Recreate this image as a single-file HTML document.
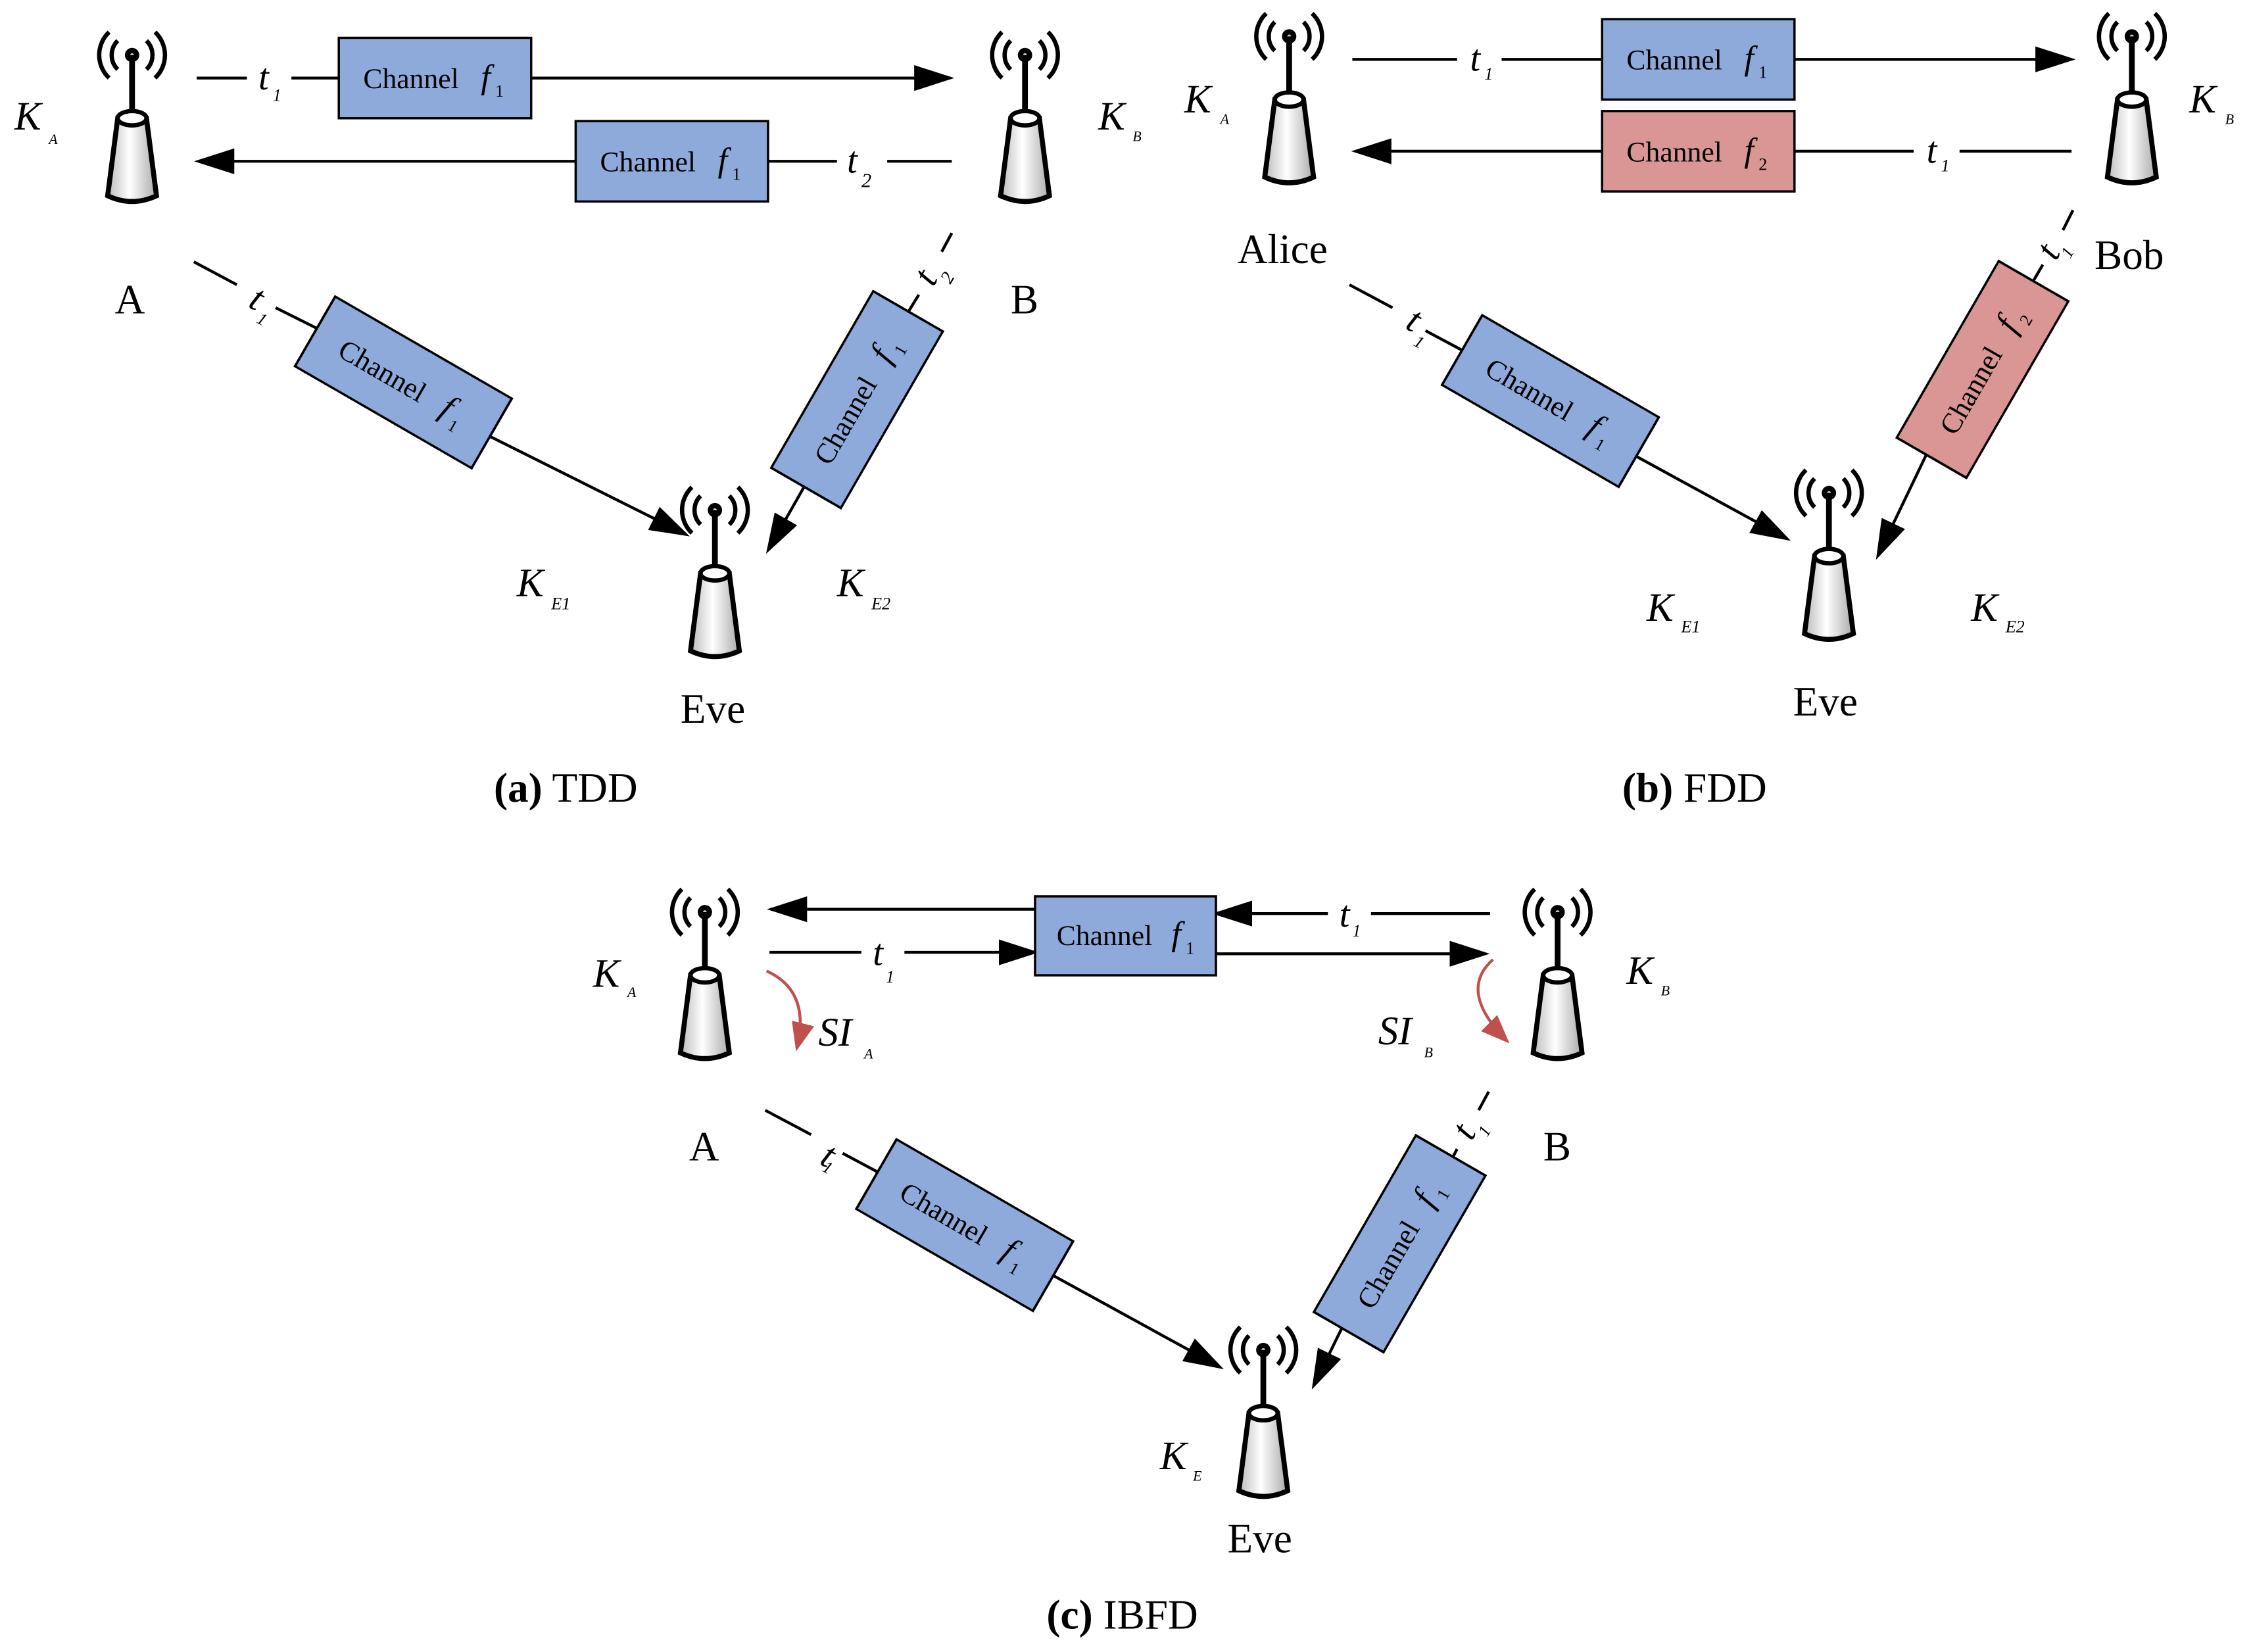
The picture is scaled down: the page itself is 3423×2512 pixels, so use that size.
<!DOCTYPE html>
<html><head><meta charset="utf-8"><style>
html,body{margin:0;padding:0;background:#fff;}
svg{display:block;}
text{font-family:"Liberation Serif",serif;fill:#000;}
.it{font-style:italic;}
</style></head><body>
<svg width="3423" height="2512" viewBox="0 0 1568 1150" xmlns="http://www.w3.org/2000/svg">
<defs>
<linearGradient id="g" x1="0" x2="1"><stop offset="0" stop-color="#bbb"/><stop offset="0.45" stop-color="#fff"/><stop offset="1" stop-color="#aaa"/></linearGradient>
<marker id="ar" viewBox="0 0 10 10" refX="9" refY="5" markerWidth="10" markerHeight="10" markerUnits="userSpaceOnUse" orient="auto"><path d="M0,1 L10,5 L0,9 z"/></marker>
<marker id="arL" viewBox="0 0 10 10" refX="9" refY="5" markerWidth="28" markerHeight="18" markerUnits="userSpaceOnUse" orient="auto" preserveAspectRatio="none"><path d="M0,0 L10,5 L0,10 z"/></marker>
<marker id="arR" viewBox="0 0 10 10" refX="9" refY="5" markerWidth="20" markerHeight="16" markerUnits="userSpaceOnUse" orient="auto" preserveAspectRatio="none"><path d="M0,0 L10,5 L0,10 z" fill="#c0504d"/></marker>
<g id="ant">
<path d="M-10,-10 A14,14 0 0 0 -10,10 M10,-10 A14,14 0 0 1 10,10" stroke="#000" stroke-width="3" fill="none"/>
<path d="M-16,-16 A22,22 0 0 0 -16,16 M16,-16 A22,22 0 0 1 16,16" stroke="#000" stroke-width="3" fill="none"/>
<circle r="5" fill="#000"/><circle r="1.3" fill="#ccc"/>
<line x1="0" y1="0" x2="0" y2="40" stroke="#000" stroke-width="4"/>
<path d="M-10,44 L-17,98 Q0,106 17,98 L10,44 Z" fill="url(#g)" stroke="#000" stroke-width="3.5"/>
<ellipse cx="0" cy="44" rx="10" ry="5" fill="#fff" stroke="#000" stroke-width="3"/>
</g>
<g id="boxB"><rect x="-67" y="-28" width="134" height="56" fill="#8eaadb" stroke="#000" stroke-width="1.6"/></g>
<g id="boxP"><rect x="-67" y="-28" width="134" height="56" fill="#d99694" stroke="#000" stroke-width="1.6"/></g>
</defs>
<g stroke="#000" stroke-width="2" fill="none">
<!-- (a) -->
<line x1="137" y1="54" x2="172" y2="54"/><line x1="203" y1="54" x2="237" y2="54"/>
<line x1="370" y1="54" x2="662" y2="54" marker-end="url(#arL)"/>
<line x1="402" y1="112" x2="138" y2="112" marker-end="url(#arL)"/>
<line x1="535" y1="112" x2="583" y2="112"/><line x1="618" y1="112" x2="663" y2="112"/>
<line x1="135" y1="182" x2="165" y2="198"/><line x1="192" y1="214" x2="224" y2="230"/>
<line x1="338" y1="302" x2="478" y2="372" marker-end="url(#arL)"/>
<line x1="663" y1="162" x2="656" y2="175"/><line x1="640" y1="205" x2="632" y2="218"/>
<line x1="560" y1="339" x2="535" y2="383" marker-end="url(#arL)"/>
<!-- (b) -->
<line x1="942" y1="41" x2="1015" y2="41"/><line x1="1046" y1="41" x2="1117" y2="41"/>
<line x1="1250" y1="41" x2="1443" y2="41" marker-end="url(#arL)"/>
<line x1="1117" y1="105" x2="944" y2="105" marker-end="url(#arL)"/>
<line x1="1250" y1="105" x2="1333" y2="105"/><line x1="1365" y1="105" x2="1443" y2="105"/>
<line x1="940" y1="198" x2="970" y2="214"/><line x1="993" y1="230" x2="1023" y2="246"/>
<line x1="1137" y1="316" x2="1245" y2="375" marker-end="url(#arL)"/>
<line x1="1444" y1="146" x2="1437" y2="160"/><line x1="1423" y1="184" x2="1416" y2="196"/>
<line x1="1342" y1="316" x2="1308" y2="387" marker-end="url(#arL)"/>
<!-- (c) -->
<line x1="721" y1="633" x2="537" y2="633" marker-end="url(#arL)"/>
<line x1="1038" y1="636" x2="955" y2="636"/><line x1="925" y1="636" x2="847" y2="636" marker-end="url(#arL)"/>
<line x1="536" y1="663" x2="600" y2="663"/><line x1="630" y1="663" x2="721" y2="663" marker-end="url(#arL)"/>
<line x1="847" y1="664" x2="1035" y2="664" marker-end="url(#arL)"/>
<line x1="533" y1="773" x2="565" y2="790"/><line x1="587" y1="803" x2="617" y2="819"/>
<line x1="728" y1="885" x2="850" y2="952" marker-end="url(#arL)"/>
<line x1="1037" y1="760" x2="1030" y2="773"/><line x1="1015" y1="800" x2="1008" y2="813"/>
<line x1="938" y1="918" x2="915" y2="965" marker-end="url(#arL)"/>
<path d="M534,676 Q565,690 555,730" stroke="#c0504d" stroke-width="2" marker-end="url(#arR)"/>
<path d="M1040,668 Q1015,690 1050,725" stroke="#c0504d" stroke-width="2" marker-end="url(#arR)"/>
</g>
<!-- antennas -->
<use href="#ant" x="92" y="38"/><use href="#ant" x="714" y="38"/><use href="#ant" x="498" y="355"/>
<use href="#ant" x="898" y="25"/><use href="#ant" x="1485" y="25"/><use href="#ant" x="1274" y="343"/>
<use href="#ant" x="491" y="635"/><use href="#ant" x="1085" y="635"/><use href="#ant" x="880" y="940"/>
<!-- boxes -->
<g font-size="20">
<g transform="translate(303,54)"><use href="#boxB"/><text x="-50" y="7">Channel</text><text x="32" y="7" class="it" font-size="24">f</text><text x="42" y="13" font-size="12">1</text></g>
<g transform="translate(468,112)"><use href="#boxB"/><text x="-50" y="7">Channel</text><text x="32" y="7" class="it" font-size="24">f</text><text x="42" y="13" font-size="12">1</text></g>
<g transform="translate(281,266) rotate(30)"><use href="#boxB" transform="scale(1.06,1)"/><text x="-50" y="7">Channel</text><text x="32" y="7" class="it" font-size="24">f</text><text x="42" y="13" font-size="12">1</text></g>
<g transform="translate(597,278) rotate(-60)"><use href="#boxB" transform="scale(1.06,1)"/><text x="-50" y="7">Channel</text><text x="32" y="7" class="it" font-size="24">f</text><text x="42" y="13" font-size="12">1</text></g>
<g transform="translate(1183,41)"><use href="#boxB"/><text x="-50" y="7">Channel</text><text x="32" y="7" class="it" font-size="24">f</text><text x="42" y="13" font-size="12">1</text></g>
<g transform="translate(1183,105)"><use href="#boxP"/><text x="-50" y="7">Channel</text><text x="32" y="7" class="it" font-size="24">f</text><text x="42" y="13" font-size="12">2</text></g>
<g transform="translate(1080,279) rotate(30)"><use href="#boxB" transform="scale(1.06,1)"/><text x="-50" y="7">Channel</text><text x="32" y="7" class="it" font-size="24">f</text><text x="42" y="13" font-size="12">1</text></g>
<g transform="translate(1381,257) rotate(-60)"><use href="#boxP" transform="scale(1.06,1)"/><text x="-50" y="7">Channel</text><text x="32" y="7" class="it" font-size="24">f</text><text x="42" y="13" font-size="12">2</text></g>
<g transform="translate(784,651)"><rect x="-63" y="-27" width="126" height="55" fill="#8eaadb" stroke="#000" stroke-width="1.6"/><text x="-48" y="7">Channel</text><text x="32" y="7" class="it" font-size="24">f</text><text x="42" y="13" font-size="12">1</text></g>
<g transform="translate(672,853) rotate(30)"><use href="#boxB" transform="scale(1.06,1)"/><text x="-50" y="7">Channel</text><text x="32" y="7" class="it" font-size="24">f</text><text x="42" y="13" font-size="12">1</text></g>
<g transform="translate(975,866) rotate(-60)"><use href="#boxB" transform="scale(1.06,1)"/><text x="-50" y="7">Channel</text><text x="32" y="7" class="it" font-size="24">f</text><text x="42" y="13" font-size="12">1</text></g>
</g>
<!-- t labels -->
<g class="it" font-size="26">
<text x="180" y="62" class="it">t</text><text x="190" y="70" font-size="12">1</text>
<text x="590" y="120" class="it">t</text><text x="600" y="130" font-size="14">2</text>
<text x="1024" y="49" class="it">t</text><text x="1034" y="55" font-size="12">1</text>
<text x="1342" y="113" class="it">t</text><text x="1352" y="119" font-size="12">1</text>
<text x="608" y="672" class="it">t</text><text x="617" y="684" font-size="12">1</text>
<text x="933" y="645" class="it">t</text><text x="942" y="652" font-size="12">1</text>
<text transform="translate(172,213) rotate(28)" class="it">t</text><text transform="translate(178,224) rotate(28)" font-size="12">1</text>
<text transform="translate(978,228) rotate(28)" class="it">t</text><text transform="translate(984,240) rotate(28)" font-size="12">1</text>
<text transform="translate(570,810) rotate(28)" class="it">t</text><text transform="translate(572,815) rotate(28)" font-size="12">1</text>
<text transform="translate(650,200) rotate(-60)" class="it">t</text><text transform="translate(662,198) rotate(-60)" font-size="13">2</text>
<text transform="translate(1432,182) rotate(-60)" class="it">t</text><text transform="translate(1442,180) rotate(-60)" font-size="12">1</text>
<text transform="translate(1025,795) rotate(-60)" class="it">t</text><text transform="translate(1036,792) rotate(-60)" font-size="12">1</text>
</g>
<!-- K labels -->
<g font-size="28" class="it">
<text x="10" y="90">K</text><text x="34" y="100" font-size="10">A</text>
<text x="765" y="90">K</text><text x="789" y="98" font-size="10">B</text>
<text x="360" y="415">K</text><text x="384" y="424" font-size="12">E1</text>
<text x="583" y="415">K</text><text x="607" y="424" font-size="12">E2</text>
<text x="825" y="78">K</text><text x="850" y="86" font-size="10">A</text>
<text x="1525" y="78">K</text><text x="1550" y="86" font-size="10">B</text>
<text x="1147" y="432">K</text><text x="1171" y="440" font-size="12">E1</text>
<text x="1373" y="432">K</text><text x="1397" y="440" font-size="12">E2</text>
<text x="413" y="687">K</text><text x="437" y="694" font-size="10">A</text>
<text x="1133" y="685">K</text><text x="1157" y="693" font-size="10">B</text>
<text x="808" y="1023">K</text><text x="831" y="1031" font-size="10">E</text>
<text x="570" y="728">SI</text><text x="602" y="737" font-size="10">A</text>
<text x="960" y="727">SI</text><text x="992" y="736" font-size="10">B</text>
</g>
<g font-size="29">
<text x="80" y="218">A</text><text x="704" y="218">B</text><text x="474" y="503">Eve</text>
<text x="862" y="183">Alice</text><text x="1459" y="187">Bob</text><text x="1249" y="498">Eve</text>
<text x="480" y="808">A</text><text x="1075" y="808">B</text><text x="855" y="1081">Eve</text>
<text x="344" y="558"><tspan font-weight="bold">(a)</tspan> TDD</text>
<text x="1130" y="558"><tspan font-weight="bold">(b)</tspan> FDD</text>
<text x="729" y="1134"><tspan font-weight="bold">(c)</tspan> IBFD</text>
</g>
</svg>
</body></html>
